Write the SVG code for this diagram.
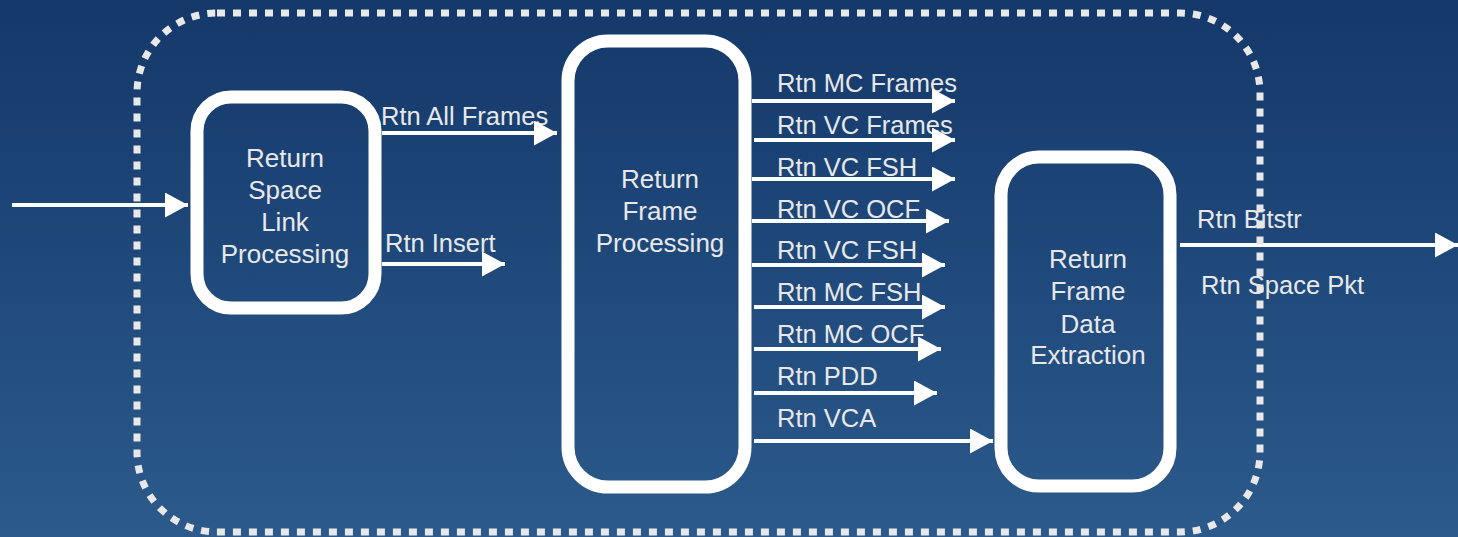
<svg xmlns="http://www.w3.org/2000/svg" width="1458" height="537" viewBox="0 0 1458 537">
<defs>
<linearGradient id="bg" x1="0" y1="0" x2="0" y2="1">
<stop offset="0" stop-color="#14386a"/>
<stop offset="1" stop-color="#2b5a8b"/>
</linearGradient>
<marker id="ah" markerUnits="userSpaceOnUse" markerWidth="23" markerHeight="25" refX="23" refY="12.5" orient="auto">
<path d="M0,0 L23,12.5 L0,25 z" fill="#ffffff"/>
</marker>
<style>
.node{fill:none;stroke:#ffffff;stroke-width:13}
.nt{font-family:"Liberation Sans",Arial,sans-serif;font-size:26px;fill:#e8e8e8;text-anchor:middle}
.lbl{font-family:"Liberation Sans",Arial,sans-serif;font-size:25.5px;fill:#e8e8e8}
.conn line{stroke:#ffffff;stroke-width:4;marker-end:url(#ah)}
.border{fill:none;stroke:#e8e8e8;stroke-width:7;stroke-dasharray:8 8}
</style>
</defs>
<rect x="0" y="0" width="1458" height="537" fill="url(#bg)"/>

<g id="node-space-link">
<rect class="node" x="197" y="97" width="178" height="211" rx="34"/>
<text class="nt" x="285" y="167">Return</text>
<text class="nt" x="285" y="199">Space</text>
<text class="nt" x="285" y="231">Link</text>
<text class="nt" x="285" y="263">Processing</text>
</g>

<g id="node-frame-processing">
<rect class="node" x="568" y="41" width="177" height="446" rx="40"/>
<text class="nt" x="660" y="188">Return</text>
<text class="nt" x="660" y="220">Frame</text>
<text class="nt" x="660" y="252">Processing</text>
</g>

<g id="node-data-extraction">
<rect class="node" x="1001" y="157" width="169" height="329" rx="38"/>
<text class="nt" x="1088" y="268">Return</text>
<text class="nt" x="1088" y="300">Frame</text>
<text class="nt" x="1088" y="333">Data</text>
<text class="nt" x="1088" y="364">Extraction</text>
</g>

<g id="labels">
<text class="lbl" x="381" y="125">Rtn All Frames</text>
<text class="lbl" x="385" y="252">Rtn Insert</text>
<text class="lbl" x="777" y="92">Rtn MC Frames</text>
<text class="lbl" x="777" y="134">Rtn VC Frames</text>
<text class="lbl" x="777" y="176">Rtn VC FSH</text>
<text class="lbl" x="777" y="218">Rtn VC OCF</text>
<text class="lbl" x="777" y="259">Rtn VC FSH</text>
<text class="lbl" x="777" y="301">Rtn MC FSH</text>
<text class="lbl" x="777" y="343">Rtn MC OCF</text>
<text class="lbl" x="777" y="385">Rtn PDD</text>
<text class="lbl" x="777" y="427">Rtn VCA</text>
<text class="lbl" x="1197" y="228">Rtn Bitstr</text>
<text class="lbl" x="1201" y="294">Rtn Space Pkt</text>
</g>

<g id="connectors" class="conn">
<line x1="12" y1="205" x2="188" y2="205"/>
<line x1="382" y1="133" x2="557" y2="133"/>
<line x1="382" y1="264" x2="505" y2="264"/>
<line x1="752" y1="101" x2="955" y2="101"/>
<line x1="754" y1="140" x2="955" y2="140"/>
<line x1="752" y1="179" x2="955" y2="179"/>
<line x1="752" y1="221" x2="949" y2="221"/>
<line x1="752" y1="265" x2="945" y2="265"/>
<line x1="754" y1="307" x2="945" y2="307"/>
<line x1="754" y1="349" x2="941" y2="349"/>
<line x1="754" y1="393" x2="937" y2="393"/>
<line x1="754" y1="441" x2="993" y2="441"/>
<line x1="1180" y1="245" x2="1458" y2="245"/>
</g>

<g id="boundary">
<rect class="border" x="137" y="13" width="1123" height="519" rx="80"/>
</g>
</svg>
